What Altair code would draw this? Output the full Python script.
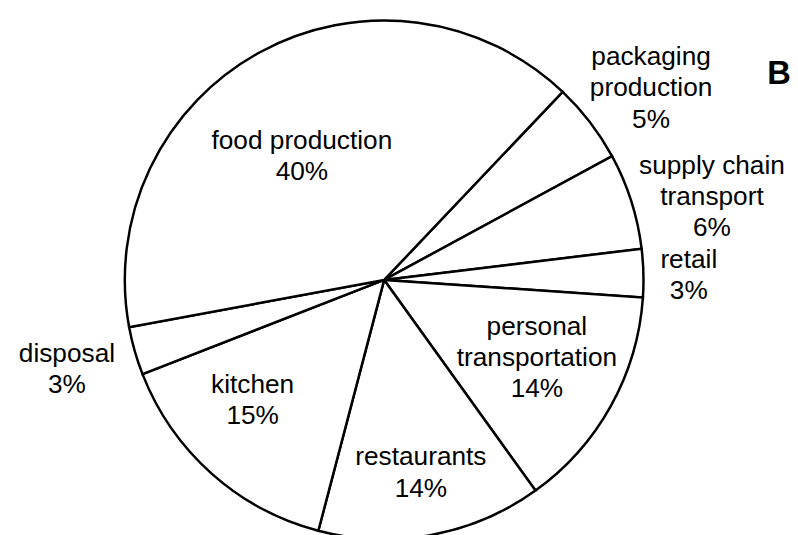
import math
import altair as alt
import pandas as pd

# ---- data ----
categories = ["packaging production", "supply chain transport", "retail",
              "personal transportation", "restaurants", "kitchen",
              "disposal", "food production"]
label_lines = ["packaging\nproduction", "supply chain\ntransport", "retail",
               "personal\ntransportation", "restaurants", "kitchen",
               "disposal", "food production"]
shares = [5, 6, 3, 14, 14, 15, 3, 40]

df = pd.DataFrame({
    "idx": list(range(len(categories))),
    "category": categories,
    "name": label_lines,
    "share": shares,
})

# ---- layout / style ----
FONT = "Liberation Sans"
FS = 26.5
LH = 31.5
R = 262
start = math.radians(43.5)
theta_scale = alt.Scale(domain=[0, 100], range=[start, start + 2 * math.pi])

# label placement: (radius in px, angular offset in degrees from slice middle)
placement = {
    "packaging production": (346, -1.3),
    "supply chain transport": (348, -0.2),
    "retail": (308, -0.7),
    "personal transportation": (164, -9.3),
    "restaurants": (191, -0.7),
    "kitchen": (175, 7.7),
    "disposal": (331, 1.4),
    "food production": (156, -3.7),
}

base = alt.Chart(df).transform_window(
    cum="sum(share)", sort=[alt.SortField("idx")]
).transform_calculate(
    start="datum.cum - datum.share",
    end="datum.cum",
    mid="datum.cum - datum.share / 2",
    label="datum.name + '\\n' + datum.share + '%'",
)

arcs = base.mark_arc(
    radius=R, fill="white", stroke="black", strokeWidth=2.5
).encode(
    theta=alt.Theta("start:Q", scale=theta_scale, stack=False),
    theta2="end:Q",
)

layers = [arcs]
for cat in categories:
    r, off = placement[cat]
    lay = base.transform_filter(
        alt.datum.category == cat
    ).transform_calculate(
        pos=f"datum.mid + {off / 3.6}"
    ).mark_text(
        radius=r, align="center", baseline="alphabetic", font=FONT,
        fontSize=FS, lineBreak="\n", lineHeight=LH, color="black"
    ).encode(
        theta=alt.Theta("pos:Q", scale=theta_scale, stack=False),
        text="label:N",
    )
    layers.append(lay)

panel = alt.Chart(pd.DataFrame({"t": ["B"]})).mark_text(
    align="left", baseline="alphabetic", font=FONT, fontSize=33,
    fontWeight="bold", color="black"
).encode(text="t:N", x=alt.value(767), y=alt.value(57))
layers.append(panel)

chart = alt.layer(*layers).properties(
    width=760, height=510,
    autosize=alt.AutoSizeParams(type="none"),
    padding={"left": 0, "top": 17, "right": 30, "bottom": 0},
).configure_view(stroke=None)

chart.save("out.html", embed_options={"renderer": "svg", "actions": False})
